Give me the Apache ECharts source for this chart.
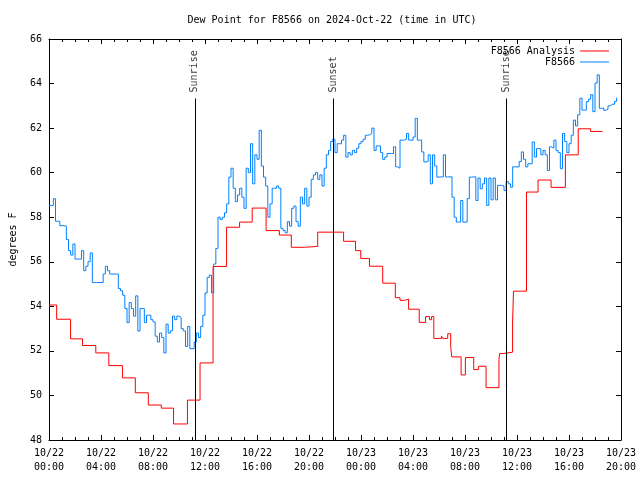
<!DOCTYPE html>
<html><head><meta charset="utf-8">
<script src="https://cdn.jsdelivr.net/npm/echarts@6/dist/echarts.min.js"></script>
<style>html,body{margin:0;padding:0;background:#fff}#c{width:640px;height:480px}</style>
</head><body><div id="c"></div>
<script>
const titleText = 'Dew Point for F8566 on 2024-Oct-22 (time in UTC)';
const xTickLabels = ['10/22\n00:00','10/22\n04:00','10/22\n08:00','10/22\n12:00','10/22\n16:00','10/22\n20:00',
  '10/23\n00:00','10/23\n04:00','10/23\n08:00','10/23\n12:00','10/23\n16:00','10/23\n20:00'];
// hours since 2024-10-22 00:00 UTC
const redTimes = [0,0.59,1.66,2.58,3.6,4.6,5.65,6.64,7.64,8.64,9.58,10.65,11.62,12.62,13.66,14.66,15.63,16.7,17.72,18.64,19.64,20.67,22.66,23.58,23.98,24.65,25.67,26.64,27.0,27.36,27.66,28.48,28.97,29.27,29.43,29.6,30.19,30.29,30.67,30.9,30.98,31.7,32.03,32.67,33.05,33.62,34.61,34.66,34.92,35.66,35.73,36.73,37.62,38.62,39.72,40.71,41.66,42.58];
const redValues = [54.06,53.42,52.54,52.24,51.91,51.34,50.79,50.12,49.57,49.43,48.72,49.79,51.46,55.79,57.55,57.78,58.41,57.40,57.2,56.65,56.69,57.33,56.92,56.5,56.15,55.8,55.04,54.39,54.27,54.33,53.87,53.28,53.54,53.4,53.54,52.56,52.66,52.56,52.77,52.2,51.73,50.92,51.7,51.16,51.31,50.35,51.6,51.88,51.94,53.3,54.68,59.13,59.67,59.34,60.8,61.97,61.85,61.85];
// observations every 10 minutes from 00:00
const blueStepHours = 1/6;
const blueValues = [
58.53,58.53,58.83,57.82,57.82,57.62,
57.62,57.6,57.0,56.5,56.3,56.8,
56.12,56.12,56.12,56.5,55.6,55.8,
56.0,56.4,55.07,55.07,55.07,55.07,
55.07,55.45,55.8,55.6,55.45,55.45,
55.45,55.45,54.8,54.7,54.5,53.9,
53.27,54.17,53.9,53.56,54.47,52.89,
53.9,53.9,53.27,53.6,53.6,53.4,
53.3,52.66,52.4,52.8,52.6,51.91,
53.2,52.8,52.9,53.56,53.4,53.56,
53.5,53.0,52.9,52.2,53.1,52.1,
52.1,52.4,52.8,52.6,53.1,53.6,
54.6,55.3,55.4,54.6,55.9,56.6,
58.0,57.9,58.0,58.2,58.6,59.8,
60.2,59.3,58.7,59.0,59.3,58.9,
58.4,60.2,60.0,61.3,59.5,60.8,
60.6,61.9,60.3,59.8,59.4,58.0,
58.6,59.3,59.3,59.4,59.3,57.5,
57.4,57.3,57.8,57.6,58.4,58.5,
57.8,57.6,58.9,58.6,59.3,58.5,
58.9,59.7,59.9,60.0,59.7,59.9,
59.4,60.2,60.8,61.0,61.4,61.5,
60.9,61.3,61.3,61.46,61.68,60.7,
60.9,60.8,61.0,60.9,61.1,61.3,
61.4,61.5,61.68,61.7,61.76,62.0,
61.0,61.2,61.2,60.9,60.6,60.7,
60.86,60.86,60.86,61.16,60.26,60.2,
61.46,61.46,61.5,61.76,61.46,61.46,
61.6,62.44,61.46,61.46,60.93,60.48,
60.5,60.8,59.5,60.8,60.3,59.8,
59.81,59.81,60.8,59.81,59.81,59.81,
58.9,58.0,57.78,57.78,58.75,57.78,
57.78,58.83,59.8,59.81,59.81,58.75,
59.76,59.28,59.5,59.76,58.53,59.76,
58.78,59.76,58.78,59.43,59.43,59.4,
59.2,59.6,59.5,59.35,60.26,60.26,
60.26,60.5,60.93,60.6,60.26,60.4,
60.4,61.38,60.7,61.08,61.08,60.8,
61.0,60.8,60.1,61.16,61.1,61.46,
61.0,60.9,60.18,61.76,61.4,60.9,
61.3,61.68,62.36,62.1,62.6,63.34,
62.81,62.81,63.19,63.3,63.5,62.74,
64.02,64.39,62.89,62.9,62.8,62.85,
63.0,63.07,63.07,63.2,63.37
];
const sunTimes = [11.215, 21.87, 35.21];
const sunLabels = ['Sunrise', 'Sunset', 'Sunrise'];
const sunLineTop = 63.33;
const sunLabelBase = 63.6;

const FONT = 'DejaVu Sans Mono';
const redData = redTimes.map((t, i) => [t, redValues[i]]);
const blueData = blueValues.map((v, i) => [i * blueStepHours, v]);
const sunData = sunTimes.map((t, i) => [t, sunLabelBase, sunLabels[i]]);

const axisCommon = {
  type: 'value',
  axisLine: { show: true, onZero: false, lineStyle: { color: '#000', width: 1 } },
  axisTick: { show: true, inside: true, length: 5, lineStyle: { color: '#000' } },
  splitLine: { show: false },
};

const chart = echarts.init(document.getElementById('c'), null, { renderer: 'canvas' });
chart.setOption({
  animation: false,
  backgroundColor: '#fff',
  textStyle: { fontFamily: FONT, color: '#000' },
  title: {
    text: titleText, left: 332, top: 15, textAlign: 'center', padding: 0,
    textStyle: { fontFamily: FONT, fontSize: 10, fontWeight: 'normal', color: '#000' }
  },
  legend: {
    data: ['F8566 Analysis', 'F8566'],
    orient: 'vertical', right: 31, top: 46, align: 'right',
    icon: 'rect', itemWidth: 29, itemHeight: 1, itemGap: 1, padding: 0,
    textStyle: { fontFamily: FONT, fontSize: 10, color: '#000' }
  },
  grid: { left: 47, right: 19, top: 39, bottom: 40, containLabel: false },
  xAxis: [
    Object.assign({}, axisCommon, {
      position: 'bottom', min: 0, max: 44, interval: 4,
      minorTick: { show: true, splitNumber: 4, length: 3, lineStyle: { color: '#000' } },
      axisLabel: {
        fontFamily: FONT, fontSize: 10, color: '#000', margin: 6, lineHeight: 14,
        showMinLabel: true, showMaxLabel: true,
        formatter: v => xTickLabels[Math.round(v / 4)]
      }
    }),
    Object.assign({}, axisCommon, {
      position: 'top', min: 0, max: 44, interval: 4,
      minorTick: { show: true, splitNumber: 4, length: 3, lineStyle: { color: '#000' } },
      axisLabel: { show: false }
    })
  ],
  yAxis: [
    Object.assign({}, axisCommon, {
      position: 'left', min: 48, max: 66, interval: 2,
      name: 'degrees F', nameLocation: 'middle', nameGap: 31, nameRotate: 90,
      nameTextStyle: { fontFamily: FONT, fontSize: 10, color: '#000' },
      axisLabel: { fontFamily: FONT, fontSize: 10, color: '#000', margin: 7 }
    }),
    Object.assign({}, axisCommon, {
      position: 'right', min: 48, max: 66, interval: 2,
      axisLabel: { show: false }
    })
  ],
  series: [
    {
      name: 'F8566 Analysis', type: 'line', step: 'end', data: redData,
      showSymbol: false, symbol: 'none', color: '#ff0000',
      lineStyle: { color: '#ff0000', width: 1 }, z: 3
    },
    {
      name: 'F8566', type: 'line', step: 'end', data: blueData,
      showSymbol: false, symbol: 'none', color: '#0080ff',
      lineStyle: { color: '#0080ff', width: 1 }, z: 4
    },
    {
      name: 'sun', type: 'scatter', data: sunData, symbolSize: 0, silent: true, z: 5,
      label: {
        show: true, position: 'inside', rotate: 90, align: 'left', verticalAlign: 'middle',
        fontFamily: FONT, fontSize: 10, color: '#000',
        formatter: p => p.data[2]
      },
      markLine: {
        silent: true, symbol: ['none', 'none'], label: { show: false },
        lineStyle: { color: '#000', width: 1, type: 'solid' },
        data: sunTimes.map(t => [{ coord: [t, 48] }, { coord: [t, sunLineTop] }])
      }
    }
  ]
});
</script>
</body></html>
